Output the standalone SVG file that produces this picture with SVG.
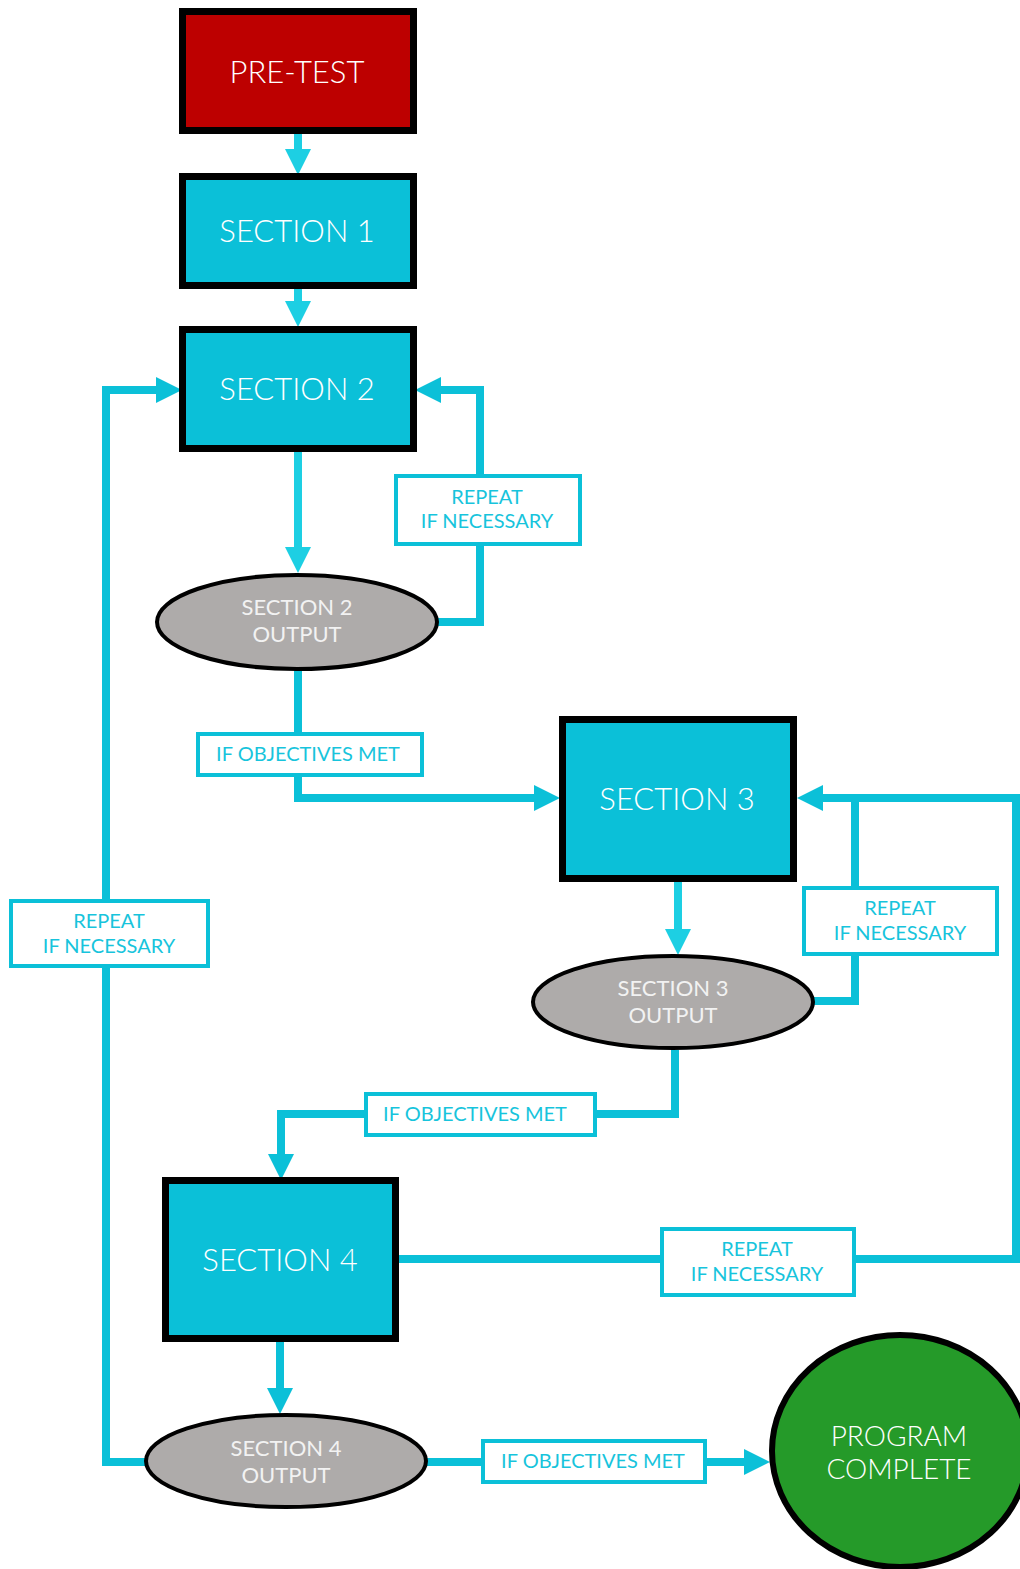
<svg xmlns="http://www.w3.org/2000/svg" width="1020" height="1569" viewBox="0 0 1020 1569">
<style>
.bg{fill:#ffffff}
.box{stroke:#000;stroke-width:7}
.sec{fill:#0BC0D8}
.pre{fill:#BD0000}
.out{fill:#AEABAA;stroke:#000;stroke-width:4}
.done{fill:#259A29;stroke:#000;stroke-width:6}
.big{font-family:Lato,"Liberation Sans",sans-serif;font-weight:300;font-size:31px;fill:#ffffff;text-anchor:middle}
.pc{font-family:Lato,"Liberation Sans",sans-serif;font-weight:300;font-size:28px;fill:#ffffff;text-anchor:middle}
.mid{font-family:Lato,"Liberation Sans",sans-serif;font-size:22px;fill:#F2F2F2;text-anchor:middle}
.lbl{font-family:Lato,"Liberation Sans",sans-serif;font-size:20px;fill:#17C4DC;text-anchor:middle}
.lb{fill:#ffffff;stroke:#0BC0D8;stroke-width:4}
.ln{fill:none;stroke:#0BC0D8;stroke-width:8}
.ln2{fill:none;stroke:#1DCFE3;stroke-width:8}
</style>
<defs>
<marker id="ah" markerUnits="userSpaceOnUse" markerWidth="26" markerHeight="26" refX="13" refY="13" orient="auto"><path d="M0,0 L26,13 L0,26 z" fill="#0BC0D8"/></marker>
<marker id="ah2" markerUnits="userSpaceOnUse" markerWidth="26" markerHeight="26" refX="13" refY="13" orient="auto"><path d="M0,0 L26,13 L0,26 z" fill="#1DCFE3"/></marker>
</defs>
<rect class="bg" x="0" y="0" width="1020" height="1569"/>
<g id="connectors">
<path class="ln2" d="M298,134 V162" marker-end="url(#ah2)"/>
<path class="ln2" d="M298,289 V314" marker-end="url(#ah2)"/>
<path class="ln2" d="M298,452 V560" marker-end="url(#ah2)"/>
<path class="ln" d="M437,622 H480 V390 H428" marker-end="url(#ah)"/>
<path class="ln" d="M298,670 V798 H547" marker-end="url(#ah)"/>
<path class="ln2" d="M678,882 V942" marker-end="url(#ah2)"/>
<path class="ln" d="M813,1001 H855 V798 H810" marker-end="url(#ah)"/>
<path class="ln" d="M399,1259 H1016 V798 H855"/>
<path class="ln" d="M675,1050 V1114 H281 V1167" marker-end="url(#ah)"/>
<path class="ln" d="M280,1342 V1401" marker-end="url(#ah)"/>
<path class="ln" d="M147,1462 H106 V390 H169" marker-end="url(#ah)"/>
<path class="ln" d="M427,1462 H757" marker-end="url(#ah)"/>
<g id="label-repeat-2"><rect class="lb" x="396" y="476" width="184" height="68"/><text class="lbl" x="487" y="504">REPEAT</text><text class="lbl" x="487" y="528">IF NECESSARY</text></g>
<g id="label-objectives-2"><rect class="lb" x="198" y="734" width="224" height="41"/><text class="lbl" x="308" y="761">IF OBJECTIVES MET</text></g>
<g id="label-repeat-3"><rect class="lb" x="804" y="888" width="193" height="66"/><text class="lbl" x="900" y="915">REPEAT</text><text class="lbl" x="900" y="940">IF NECESSARY</text></g>
<g id="label-objectives-3"><rect class="lb" x="366" y="1094" width="229" height="41"/><text class="lbl" x="475" y="1121">IF OBJECTIVES MET</text></g>
<g id="label-repeat-4"><rect class="lb" x="662" y="1229" width="192" height="66"/><text class="lbl" x="757" y="1256">REPEAT</text><text class="lbl" x="757" y="1281">IF NECESSARY</text></g>
<g id="label-repeat-left"><rect class="lb" x="11" y="901" width="197" height="65"/><text class="lbl" x="109" y="928">REPEAT</text><text class="lbl" x="109" y="953">IF NECESSARY</text></g>
<g id="label-objectives-4"><rect class="lb" x="483" y="1441" width="222" height="41"/><text class="lbl" x="593" y="1468">IF OBJECTIVES MET</text></g>
</g>
<g id="pre-test"><rect class="box pre" x="182.5" y="11.5" width="231" height="119"/><text class="big" x="297" y="83">PRE-TEST</text></g>
<g id="section-1"><rect class="box sec" x="182.5" y="176.5" width="231" height="109"/><text class="big" x="297" y="242">SECTION 1</text></g>
<g id="section-2"><rect class="box sec" x="182.5" y="329.5" width="231" height="119"/><text class="big" x="297" y="400">SECTION 2</text></g>
<g id="section-2-output"><ellipse class="out" cx="297" cy="622" rx="140" ry="47"/><text class="mid" x="297" y="615">SECTION 2</text><text class="mid" x="297" y="642">OUTPUT</text></g>
<g id="section-3"><rect class="box sec" x="562.5" y="719.5" width="231" height="159"/><text class="big" x="677" y="810">SECTION 3</text></g>
<g id="section-3-output"><ellipse class="out" cx="673" cy="1002" rx="140" ry="46"/><text class="mid" x="673" y="996">SECTION 3</text><text class="mid" x="673" y="1023">OUTPUT</text></g>
<g id="section-4"><rect class="box sec" x="165.5" y="1180.5" width="230" height="158"/><text class="big" x="280" y="1271">SECTION 4</text></g>
<g id="section-4-output"><ellipse class="out" cx="286" cy="1461" rx="140" ry="46"/><text class="mid" x="286" y="1456">SECTION 4</text><text class="mid" x="286" y="1483">OUTPUT</text></g>
<g id="program-complete"><ellipse class="done" cx="900" cy="1451" rx="128" ry="116"/><text class="pc" x="899" y="1446">PROGRAM</text><text class="pc" x="899" y="1479">COMPLETE</text></g>
</svg>
